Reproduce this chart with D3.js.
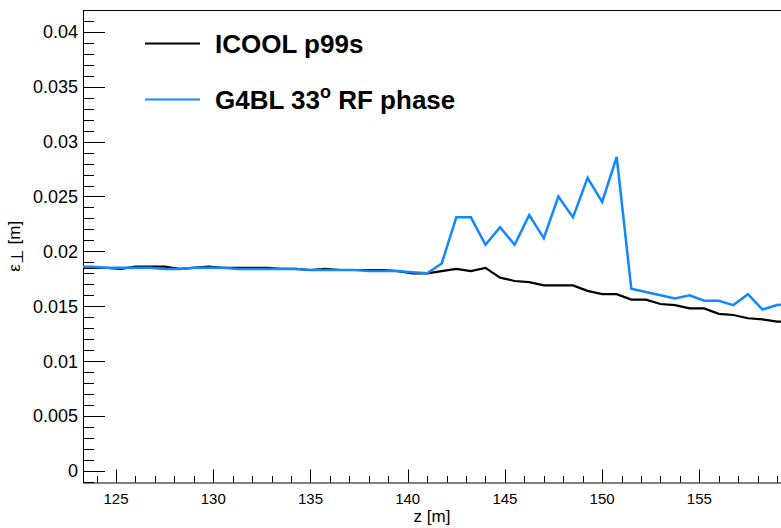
<!DOCTYPE html>
<html>
<head>
<meta charset="utf-8">
<script src="https://cdn.jsdelivr.net/npm/d3@7"></script>
<style>
  body { margin: 0; background: #fff; }
  svg { display: block; }
  text { font-family: "Liberation Sans", Arial, Helvetica, sans-serif; fill: #000; }
</style>
</head>
<body>
<div id="chart"></div>
<script>
// Data (z in m, emittance in m)
const zPos = [123, 123.75, 124.5, 125.25, 126, 126.75, 127.5, 128.25, 129, 129.75,
  130.5, 131.25, 132, 132.75, 133.5, 134.25, 135, 135.75, 136.5, 137.25,
  138, 138.75, 139.5, 140.25, 141, 141.75, 142.5, 143.25, 144, 144.75,
  145.5, 146.25, 147, 147.75, 148.5, 149.25, 150, 150.75, 151.5, 152.25,
  153, 153.75, 154.5, 155.25, 156, 156.75, 157.5, 158.25, 159, 159.75];

const icoolEmit = [0.0185, 0.0185, 0.0185, 0.0184, 0.0186, 0.0186, 0.0186, 0.0184, 0.0185, 0.0186,
  0.0185, 0.0185, 0.0185, 0.0185, 0.0184, 0.0184, 0.0183, 0.0184, 0.0183, 0.0183,
  0.0183, 0.0183, 0.0182, 0.0180, 0.0180, 0.0182, 0.0184, 0.0182, 0.0185, 0.0176,
  0.0173, 0.0172, 0.0169, 0.0169, 0.0169, 0.0164, 0.0161, 0.0161, 0.0156, 0.0156,
  0.0152, 0.0151, 0.0148, 0.0148, 0.0143, 0.0142, 0.0139, 0.0138, 0.0136, 0.0136];

const g4blEmit = [0.0186, 0.0186, 0.0185, 0.0185, 0.0185, 0.0185, 0.0184, 0.0184, 0.0185, 0.0185,
  0.0185, 0.0184, 0.0184, 0.0184, 0.0184, 0.0184, 0.0183, 0.0183, 0.0183, 0.0183,
  0.0182, 0.0182, 0.0182, 0.0181, 0.0180, 0.0189, 0.0231, 0.0231, 0.0206, 0.0222,
  0.0206, 0.0233, 0.0212, 0.0250, 0.0231, 0.0267, 0.0245, 0.0286, 0.0166, 0.0163,
  0.0160, 0.0157, 0.0160, 0.0155, 0.0155, 0.0151, 0.0161, 0.0147, 0.0151, 0.0152];

const xTicks = [125, 130, 135, 140, 145, 150, 155];
const yTicks = [0, 0.005, 0.01, 0.015, 0.02, 0.025, 0.03, 0.035, 0.04];
const yTickLabels = ["0", "0.005", "0.01", "0.015", "0.02", "0.025", "0.03", "0.035", "0.04"];

const width = 781, height = 528;
const plotLeft = 83, plotRight = 781, plotTop = 10, plotBottom = 482.5;

const svg = d3.select("#chart").append("svg")
    .attr("width", width)
    .attr("height", height);

// Scales
const x = d3.scaleLinear().domain([123.3, 159.2]).range([plotLeft, plotRight]);
const y = d3.scaleLinear().domain([-0.00107, 0.042]).range([plotBottom, plotTop]);

svg.append("defs").append("clipPath")
    .attr("id", "plot-clip")
    .append("rect")
    .attr("x", plotLeft).attr("y", plotTop)
    .attr("width", plotRight - plotLeft).attr("height", plotBottom - plotTop);

// Frame
svg.append("rect")
    .attr("x", plotLeft + 0.5).attr("y", plotTop + 0.5)
    .attr("width", plotRight - plotLeft + 2).attr("height", plotBottom - plotTop)
    .attr("fill", "none")
    .attr("stroke", "#000")
    .attr("stroke-width", 1);

// Y ticks (minor every 0.001, major every 0.005)
const yAxis = svg.append("g").attr("class", "y-axis");
d3.range(-1, 43).forEach(i => {
    const py = Math.round(y(i / 1000)) + 0.5;
    const len = i % 5 === 0 ? 22 : 11;
    yAxis.append("line")
        .attr("x1", plotLeft).attr("x2", plotLeft + len)
        .attr("y1", py).attr("y2", py)
        .attr("stroke", "#000");
});
yAxis.selectAll("text")
    .data(yTicks)
    .enter().append("text")
    .attr("x", 78)
    .attr("y", d => y(d))
    .attr("dy", "0.36em")
    .attr("text-anchor", "end")
    .style("font-size", "18px")
    .text((d, i) => yTickLabels[i]);

// X ticks (minor every 1 m, major every 5 m)
const xAxis = svg.append("g").attr("class", "x-axis");
d3.range(124, 160).forEach(v => {
    const px = Math.round(x(v)) + 0.5;
    const len = v % 5 === 0 ? 13 : 6.5;
    xAxis.append("line")
        .attr("x1", px).attr("x2", px)
        .attr("y1", plotBottom).attr("y2", plotBottom - len)
        .attr("stroke", "#000");
});
xAxis.selectAll("text")
    .data(xTicks)
    .enter().append("text")
    .attr("x", d => x(d))
    .attr("y", 504)
    .attr("text-anchor", "middle")
    .style("font-size", "15px")
    .text(d => d);

// Axis titles
svg.append("text")
    .attr("x", (plotLeft + plotRight) / 2)
    .attr("y", 522)
    .attr("text-anchor", "middle")
    .style("font-size", "17px")
    .text("z [m]");

const yTitle = svg.append("text")
    .attr("transform", `translate(20,${(plotTop + plotBottom) / 2}) rotate(-90)`)
    .attr("text-anchor", "middle")
    .style("font-size", "17px");
yTitle.append("tspan").text("\u03b5");
yTitle.append("tspan").attr("dy", 3).text("\u22a5");
yTitle.append("tspan").attr("dy", -3).text(" [m]");

// Lines
const line = d3.line()
    .x(d => x(d[0]))
    .y(d => y(d[1]));

const plot = svg.append("g").attr("clip-path", "url(#plot-clip)");

plot.append("path")
    .datum(zPos.map((z, i) => [z, icoolEmit[i]]))
    .attr("d", line)
    .attr("fill", "none")
    .attr("stroke", "#000")
    .attr("stroke-width", 2.2)
    .attr("stroke-linejoin", "miter");

plot.append("path")
    .datum(zPos.map((z, i) => [z, g4blEmit[i]]))
    .attr("d", line)
    .attr("fill", "none")
    .attr("stroke", "#1188ff")
    .attr("stroke-width", 2.5)
    .attr("stroke-linejoin", "miter");

// Legend
const legend = svg.append("g").attr("class", "legend");
legend.append("line")
    .attr("x1", 145).attr("x2", 200)
    .attr("y1", 43.5).attr("y2", 43.5)
    .attr("stroke", "#000").attr("stroke-width", 2);
legend.append("text")
    .attr("x", 215).attr("y", 53)
    .style("font-size", "26px").style("font-weight", "bold")
    .text("ICOOL p99s");

legend.append("line")
    .attr("x1", 145).attr("x2", 200)
    .attr("y1", 99.5).attr("y2", 99.5)
    .attr("stroke", "#1188ff").attr("stroke-width", 2);
const g4Label = legend.append("text")
    .attr("x", 215).attr("y", 109)
    .style("font-size", "26px").style("font-weight", "bold");
g4Label.append("tspan").text("G4BL 33");
g4Label.append("tspan").attr("dy", -11).style("font-size", "18px").text("o");
g4Label.append("tspan").attr("dy", 11).text(" RF phase");
</script>
</body>
</html>
